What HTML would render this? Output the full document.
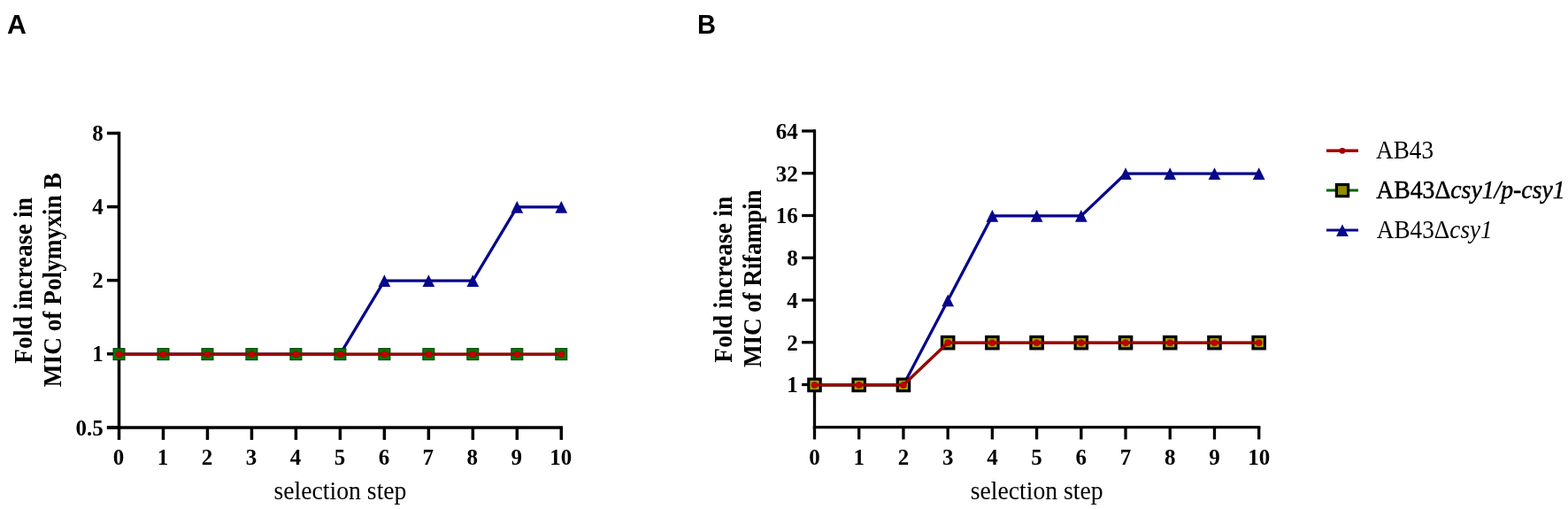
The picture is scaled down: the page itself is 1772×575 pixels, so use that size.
<!DOCTYPE html>
<html><head><meta charset="utf-8"><title>Fold increase in MIC</title>
<style>
html,body{margin:0;padding:0;background:#fff;}
body{width:1772px;height:575px;overflow:hidden;}
svg{display:block;}
.tk{font-family:"Liberation Serif","Times New Roman",serif;font-weight:bold;font-size:25px;fill:#000;}
.yt{font-family:"Liberation Serif","Times New Roman",serif;font-weight:bold;font-size:27.3px;fill:#000;}
.xt{font-family:"Liberation Serif","Times New Roman",serif;font-size:27.7px;fill:#000;}
.lg{font-family:"Liberation Serif","Times New Roman",serif;font-size:27.5px;fill:#000;}
.lb{stroke:#000;stroke-width:0.45px;}
.pl{text-rendering:geometricPrecision;font-family:"Liberation Sans",Arial,sans-serif;font-weight:bold;font-size:30px;fill:#000;}
</style></head>
<body>
<svg width="1772" height="575" viewBox="0 0 1772 575">
<rect width="1772" height="575" fill="#fff"/>
<line x1="134.5" y1="148.75" x2="134.5" y2="484.85" stroke="#000" stroke-width="3.5"/>
<line x1="120.90" y1="483.1" x2="636.05" y2="483.1" stroke="#000" stroke-width="3.5"/>
<line x1="120.90" y1="150.50" x2="134.5" y2="150.50" stroke="#000" stroke-width="3.5"/>
<text x="116.70" y="159.10" class="tk" text-anchor="end">8</text>
<line x1="120.90" y1="233.60" x2="134.5" y2="233.60" stroke="#000" stroke-width="3.5"/>
<text x="116.70" y="242.20" class="tk" text-anchor="end">4</text>
<line x1="120.90" y1="316.70" x2="134.5" y2="316.70" stroke="#000" stroke-width="3.5"/>
<text x="116.70" y="325.30" class="tk" text-anchor="end">2</text>
<line x1="120.90" y1="399.80" x2="134.5" y2="399.80" stroke="#000" stroke-width="3.5"/>
<text x="116.70" y="408.40" class="tk" text-anchor="end">1</text>
<line x1="120.90" y1="482.90" x2="134.5" y2="482.90" stroke="#000" stroke-width="3.5"/>
<text x="116.70" y="491.50" class="tk" text-anchor="end">0.5</text>
<line x1="134.50" y1="483.1" x2="134.50" y2="496.90" stroke="#000" stroke-width="3.5"/>
<text x="134.00" y="524.5" class="tk" text-anchor="middle">0</text>
<line x1="184.48" y1="483.1" x2="184.48" y2="496.90" stroke="#000" stroke-width="3.5"/>
<text x="183.98" y="524.5" class="tk" text-anchor="middle">1</text>
<line x1="234.46" y1="483.1" x2="234.46" y2="496.90" stroke="#000" stroke-width="3.5"/>
<text x="233.96" y="524.5" class="tk" text-anchor="middle">2</text>
<line x1="284.44" y1="483.1" x2="284.44" y2="496.90" stroke="#000" stroke-width="3.5"/>
<text x="283.94" y="524.5" class="tk" text-anchor="middle">3</text>
<line x1="334.42" y1="483.1" x2="334.42" y2="496.90" stroke="#000" stroke-width="3.5"/>
<text x="333.92" y="524.5" class="tk" text-anchor="middle">4</text>
<line x1="384.40" y1="483.1" x2="384.40" y2="496.90" stroke="#000" stroke-width="3.5"/>
<text x="383.90" y="524.5" class="tk" text-anchor="middle">5</text>
<line x1="434.38" y1="483.1" x2="434.38" y2="496.90" stroke="#000" stroke-width="3.5"/>
<text x="433.88" y="524.5" class="tk" text-anchor="middle">6</text>
<line x1="484.36" y1="483.1" x2="484.36" y2="496.90" stroke="#000" stroke-width="3.5"/>
<text x="483.86" y="524.5" class="tk" text-anchor="middle">7</text>
<line x1="534.34" y1="483.1" x2="534.34" y2="496.90" stroke="#000" stroke-width="3.5"/>
<text x="533.84" y="524.5" class="tk" text-anchor="middle">8</text>
<line x1="584.32" y1="483.1" x2="584.32" y2="496.90" stroke="#000" stroke-width="3.5"/>
<text x="583.82" y="524.5" class="tk" text-anchor="middle">9</text>
<line x1="634.30" y1="483.1" x2="634.30" y2="496.90" stroke="#000" stroke-width="3.5"/>
<text x="633.80" y="524.5" class="tk" text-anchor="middle">10</text>
<polyline points="134.50,400.15 184.48,400.15 234.46,400.15 284.44,400.15 334.42,400.15 384.40,400.15 434.38,317.05 484.36,317.05 534.34,317.05 584.32,233.95 634.30,233.95" fill="none" stroke="#07078a" stroke-width="3.3"/>
<path d="M134.50,393.30L141.35,407.00L127.65,407.00Z" fill="#07078a"/>
<path d="M184.48,393.30L191.33,407.00L177.63,407.00Z" fill="#07078a"/>
<path d="M234.46,393.30L241.31,407.00L227.61,407.00Z" fill="#07078a"/>
<path d="M284.44,393.30L291.29,407.00L277.59,407.00Z" fill="#07078a"/>
<path d="M334.42,393.30L341.27,407.00L327.57,407.00Z" fill="#07078a"/>
<path d="M384.40,393.30L391.25,407.00L377.55,407.00Z" fill="#07078a"/>
<path d="M434.38,310.20L441.23,323.90L427.53,323.90Z" fill="#07078a"/>
<path d="M484.36,310.20L491.21,323.90L477.51,323.90Z" fill="#07078a"/>
<path d="M534.34,310.20L541.19,323.90L527.49,323.90Z" fill="#07078a"/>
<path d="M584.32,227.10L591.17,240.80L577.47,240.80Z" fill="#07078a"/>
<path d="M634.30,227.10L641.15,240.80L627.45,240.80Z" fill="#07078a"/>
<polyline points="134.50,400.15 184.48,400.15 234.46,400.15 284.44,400.15 334.42,400.15 384.40,400.15 434.38,400.15 484.36,400.15 534.34,400.15 584.32,400.15 634.30,400.15" fill="none" stroke="#006400" stroke-width="3"/>
<rect x="128.00" y="393.65" width="13.0" height="13.0" fill="#047804" stroke="#003c00" stroke-width="1"/>
<rect x="177.98" y="393.65" width="13.0" height="13.0" fill="#047804" stroke="#003c00" stroke-width="1"/>
<rect x="227.96" y="393.65" width="13.0" height="13.0" fill="#047804" stroke="#003c00" stroke-width="1"/>
<rect x="277.94" y="393.65" width="13.0" height="13.0" fill="#047804" stroke="#003c00" stroke-width="1"/>
<rect x="327.92" y="393.65" width="13.0" height="13.0" fill="#047804" stroke="#003c00" stroke-width="1"/>
<rect x="377.90" y="393.65" width="13.0" height="13.0" fill="#047804" stroke="#003c00" stroke-width="1"/>
<rect x="427.88" y="393.65" width="13.0" height="13.0" fill="#047804" stroke="#003c00" stroke-width="1"/>
<rect x="477.86" y="393.65" width="13.0" height="13.0" fill="#047804" stroke="#003c00" stroke-width="1"/>
<rect x="527.84" y="393.65" width="13.0" height="13.0" fill="#047804" stroke="#003c00" stroke-width="1"/>
<rect x="577.82" y="393.65" width="13.0" height="13.0" fill="#047804" stroke="#003c00" stroke-width="1"/>
<rect x="627.80" y="393.65" width="13.0" height="13.0" fill="#047804" stroke="#003c00" stroke-width="1"/>
<polyline points="134.50,400.15 184.48,400.15 234.46,400.15 284.44,400.15 334.42,400.15 384.40,400.15 434.38,400.15 484.36,400.15 534.34,400.15 584.32,400.15 634.30,400.15" fill="none" stroke="#a00000" stroke-width="3.3"/>
<circle cx="134.50" cy="400.15" r="3.5" fill="#c40000" stroke="#a00000" stroke-width="0.6"/>
<circle cx="184.48" cy="400.15" r="3.5" fill="#c40000" stroke="#a00000" stroke-width="0.6"/>
<circle cx="234.46" cy="400.15" r="3.5" fill="#c40000" stroke="#a00000" stroke-width="0.6"/>
<circle cx="284.44" cy="400.15" r="3.5" fill="#c40000" stroke="#a00000" stroke-width="0.6"/>
<circle cx="334.42" cy="400.15" r="3.5" fill="#c40000" stroke="#a00000" stroke-width="0.6"/>
<circle cx="384.40" cy="400.15" r="3.5" fill="#c40000" stroke="#a00000" stroke-width="0.6"/>
<circle cx="434.38" cy="400.15" r="3.5" fill="#c40000" stroke="#a00000" stroke-width="0.6"/>
<circle cx="484.36" cy="400.15" r="3.5" fill="#c40000" stroke="#a00000" stroke-width="0.6"/>
<circle cx="534.34" cy="400.15" r="3.5" fill="#c40000" stroke="#a00000" stroke-width="0.6"/>
<circle cx="584.32" cy="400.15" r="3.5" fill="#c40000" stroke="#a00000" stroke-width="0.6"/>
<circle cx="634.30" cy="400.15" r="3.5" fill="#c40000" stroke="#a00000" stroke-width="0.6"/>
<text class="yt" transform="translate(35.8,316.8) rotate(-90) scale(1,1.045)" text-anchor="middle" letter-spacing="0.23">Fold increase in</text>
<text class="yt" transform="translate(68.6,316.3) rotate(-90) scale(1,1.06)" text-anchor="middle" letter-spacing="0">MIC of Polymyxin B</text>
<text class="xt" transform="translate(384.50,563.5) scale(1,1.06)" text-anchor="middle">selection step</text>
<text class="pl" transform="translate(7.9,37.7) scale(1.01,1.023)">A</text>
<line x1="920.5" y1="146.35" x2="920.5" y2="484.25" stroke="#000" stroke-width="3.3"/>
<line x1="918.85" y1="482.6" x2="1424.35" y2="482.6" stroke="#000" stroke-width="3.3"/>
<line x1="906.10" y1="148.00" x2="920.5" y2="148.00" stroke="#000" stroke-width="3.3"/>
<text x="901.70" y="156.80" class="tk" text-anchor="end">64</text>
<line x1="906.10" y1="195.75" x2="920.5" y2="195.75" stroke="#000" stroke-width="3.3"/>
<text x="901.70" y="204.55" class="tk" text-anchor="end">32</text>
<line x1="906.10" y1="243.50" x2="920.5" y2="243.50" stroke="#000" stroke-width="3.3"/>
<text x="901.70" y="252.30" class="tk" text-anchor="end">16</text>
<line x1="906.10" y1="291.25" x2="920.5" y2="291.25" stroke="#000" stroke-width="3.3"/>
<text x="901.70" y="300.05" class="tk" text-anchor="end">8</text>
<line x1="906.10" y1="339.00" x2="920.5" y2="339.00" stroke="#000" stroke-width="3.3"/>
<text x="901.70" y="347.80" class="tk" text-anchor="end">4</text>
<line x1="906.10" y1="386.75" x2="920.5" y2="386.75" stroke="#000" stroke-width="3.3"/>
<text x="901.70" y="395.55" class="tk" text-anchor="end">2</text>
<line x1="906.10" y1="434.50" x2="920.5" y2="434.50" stroke="#000" stroke-width="3.3"/>
<text x="901.70" y="443.30" class="tk" text-anchor="end">1</text>
<line x1="920.50" y1="482.6" x2="920.50" y2="496.40" stroke="#000" stroke-width="3.3"/>
<text x="920.50" y="524.5" class="tk" text-anchor="middle">0</text>
<line x1="970.72" y1="482.6" x2="970.72" y2="496.40" stroke="#000" stroke-width="3.3"/>
<text x="970.72" y="524.5" class="tk" text-anchor="middle">1</text>
<line x1="1020.94" y1="482.6" x2="1020.94" y2="496.40" stroke="#000" stroke-width="3.3"/>
<text x="1020.94" y="524.5" class="tk" text-anchor="middle">2</text>
<line x1="1071.16" y1="482.6" x2="1071.16" y2="496.40" stroke="#000" stroke-width="3.3"/>
<text x="1071.16" y="524.5" class="tk" text-anchor="middle">3</text>
<line x1="1121.38" y1="482.6" x2="1121.38" y2="496.40" stroke="#000" stroke-width="3.3"/>
<text x="1121.38" y="524.5" class="tk" text-anchor="middle">4</text>
<line x1="1171.60" y1="482.6" x2="1171.60" y2="496.40" stroke="#000" stroke-width="3.3"/>
<text x="1171.60" y="524.5" class="tk" text-anchor="middle">5</text>
<line x1="1221.82" y1="482.6" x2="1221.82" y2="496.40" stroke="#000" stroke-width="3.3"/>
<text x="1221.82" y="524.5" class="tk" text-anchor="middle">6</text>
<line x1="1272.04" y1="482.6" x2="1272.04" y2="496.40" stroke="#000" stroke-width="3.3"/>
<text x="1272.04" y="524.5" class="tk" text-anchor="middle">7</text>
<line x1="1322.26" y1="482.6" x2="1322.26" y2="496.40" stroke="#000" stroke-width="3.3"/>
<text x="1322.26" y="524.5" class="tk" text-anchor="middle">8</text>
<line x1="1372.48" y1="482.6" x2="1372.48" y2="496.40" stroke="#000" stroke-width="3.3"/>
<text x="1372.48" y="524.5" class="tk" text-anchor="middle">9</text>
<line x1="1422.70" y1="482.6" x2="1422.70" y2="496.40" stroke="#000" stroke-width="3.3"/>
<text x="1422.70" y="524.5" class="tk" text-anchor="middle">10</text>
<polyline points="920.50,434.90 970.72,434.90 1020.94,434.90 1071.16,339.40 1121.38,243.90 1171.60,243.90 1221.82,243.90 1272.04,196.15 1322.26,196.15 1372.48,196.15 1422.70,196.15" fill="none" stroke="#07078a" stroke-width="3.3"/>
<path d="M920.50,428.05L927.35,441.75L913.65,441.75Z" fill="#07078a"/>
<path d="M970.72,428.05L977.57,441.75L963.87,441.75Z" fill="#07078a"/>
<path d="M1020.94,428.05L1027.79,441.75L1014.09,441.75Z" fill="#07078a"/>
<path d="M1071.16,332.55L1078.01,346.25L1064.31,346.25Z" fill="#07078a"/>
<path d="M1121.38,237.05L1128.23,250.75L1114.53,250.75Z" fill="#07078a"/>
<path d="M1171.60,237.05L1178.45,250.75L1164.75,250.75Z" fill="#07078a"/>
<path d="M1221.82,237.05L1228.67,250.75L1214.97,250.75Z" fill="#07078a"/>
<path d="M1272.04,189.30L1278.89,203.00L1265.19,203.00Z" fill="#07078a"/>
<path d="M1322.26,189.30L1329.11,203.00L1315.41,203.00Z" fill="#07078a"/>
<path d="M1372.48,189.30L1379.33,203.00L1365.63,203.00Z" fill="#07078a"/>
<path d="M1422.70,189.30L1429.55,203.00L1415.85,203.00Z" fill="#07078a"/>
<polyline points="920.50,434.90 970.72,434.90 1020.94,434.90 1071.16,387.15 1121.38,387.15 1171.60,387.15 1221.82,387.15 1272.04,387.15 1322.26,387.15 1372.48,387.15 1422.70,387.15" fill="none" stroke="#006400" stroke-width="3"/>
<rect x="913.80" y="428.20" width="13.4" height="13.4" fill="#9ea400" stroke="#000" stroke-width="3.2"/>
<rect x="964.02" y="428.20" width="13.4" height="13.4" fill="#9ea400" stroke="#000" stroke-width="3.2"/>
<rect x="1014.24" y="428.20" width="13.4" height="13.4" fill="#9ea400" stroke="#000" stroke-width="3.2"/>
<rect x="1064.46" y="380.45" width="13.4" height="13.4" fill="#9ea400" stroke="#000" stroke-width="3.2"/>
<rect x="1114.68" y="380.45" width="13.4" height="13.4" fill="#9ea400" stroke="#000" stroke-width="3.2"/>
<rect x="1164.90" y="380.45" width="13.4" height="13.4" fill="#9ea400" stroke="#000" stroke-width="3.2"/>
<rect x="1215.12" y="380.45" width="13.4" height="13.4" fill="#9ea400" stroke="#000" stroke-width="3.2"/>
<rect x="1265.34" y="380.45" width="13.4" height="13.4" fill="#9ea400" stroke="#000" stroke-width="3.2"/>
<rect x="1315.56" y="380.45" width="13.4" height="13.4" fill="#9ea400" stroke="#000" stroke-width="3.2"/>
<rect x="1365.78" y="380.45" width="13.4" height="13.4" fill="#9ea400" stroke="#000" stroke-width="3.2"/>
<rect x="1416.00" y="380.45" width="13.4" height="13.4" fill="#9ea400" stroke="#000" stroke-width="3.2"/>
<polyline points="920.50,434.90 970.72,434.90 1020.94,434.90 1071.16,387.15 1121.38,387.15 1171.60,387.15 1221.82,387.15 1272.04,387.15 1322.26,387.15 1372.48,387.15 1422.70,387.15" fill="none" stroke="#a00000" stroke-width="3.3"/>
<circle cx="920.50" cy="434.90" r="3.5" fill="#c40000" stroke="#a00000" stroke-width="0.6"/>
<circle cx="970.72" cy="434.90" r="3.5" fill="#c40000" stroke="#a00000" stroke-width="0.6"/>
<circle cx="1020.94" cy="434.90" r="3.5" fill="#c40000" stroke="#a00000" stroke-width="0.6"/>
<circle cx="1071.16" cy="387.15" r="3.5" fill="#c40000" stroke="#a00000" stroke-width="0.6"/>
<circle cx="1121.38" cy="387.15" r="3.5" fill="#c40000" stroke="#a00000" stroke-width="0.6"/>
<circle cx="1171.60" cy="387.15" r="3.5" fill="#c40000" stroke="#a00000" stroke-width="0.6"/>
<circle cx="1221.82" cy="387.15" r="3.5" fill="#c40000" stroke="#a00000" stroke-width="0.6"/>
<circle cx="1272.04" cy="387.15" r="3.5" fill="#c40000" stroke="#a00000" stroke-width="0.6"/>
<circle cx="1322.26" cy="387.15" r="3.5" fill="#c40000" stroke="#a00000" stroke-width="0.6"/>
<circle cx="1372.48" cy="387.15" r="3.5" fill="#c40000" stroke="#a00000" stroke-width="0.6"/>
<circle cx="1422.70" cy="387.15" r="3.5" fill="#c40000" stroke="#a00000" stroke-width="0.6"/>
<text class="yt" transform="translate(826.6,315.6) rotate(-90) scale(1,1.045)" text-anchor="middle" letter-spacing="0.23">Fold increase in</text>
<text class="yt" transform="translate(859.5,314.8) rotate(-90) scale(1,1.06)" text-anchor="middle" letter-spacing="-0.17">MIC of Rifampin</text>
<text class="xt" transform="translate(1171.70,563.5) scale(1,1.06)" text-anchor="middle">selection step</text>
<text class="pl" transform="translate(788.0,37.7) scale(0.97,1.015)">B</text>
<line x1="1499" y1="170.3" x2="1535" y2="170.3" stroke="#a00000" stroke-width="3.4"/>
<circle cx="1517" cy="170.3" r="3.4" fill="#a00000"/>
<line x1="1499" y1="215.1" x2="1535" y2="215.1" stroke="#006400" stroke-width="3"/>
<rect x="1510.4" y="208.5" width="13.2" height="13.2" fill="#8e8e00" stroke="#000" stroke-width="3.2"/>
<line x1="1499" y1="259.9" x2="1535" y2="259.9" stroke="#07078a" stroke-width="3"/>
<path d="M1517.00,253.35L1523.85,267.05L1510.15,267.05Z" fill="#07078a"/>
<text class="lg" transform="translate(1555,179.1) scale(0.99,1.05)">AB43</text>
<text class="lg lb" transform="translate(1555.2,223.5) scale(1.009,1.05)">AB43Δ<tspan font-style="italic">csy1/p-csy1</tspan></text>
<text class="lg" transform="translate(1555.8,268.6) scale(0.99,1.05)">AB43Δ<tspan font-style="italic">csy1</tspan></text>
</svg>
</body></html>
